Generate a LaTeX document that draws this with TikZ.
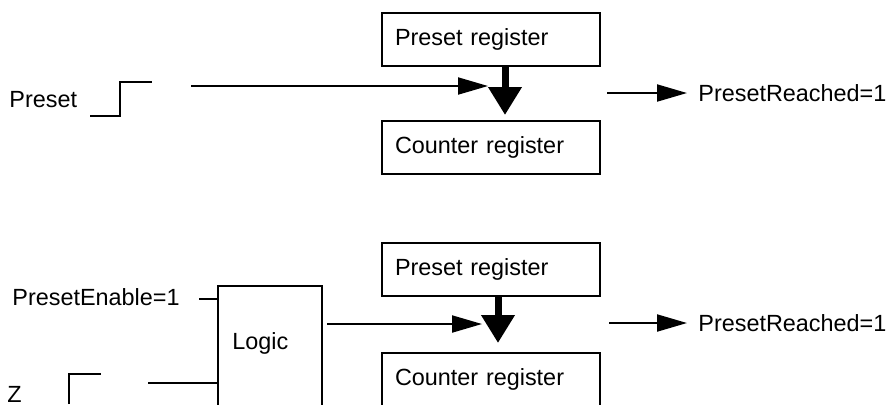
\documentclass[tikz,border=0pt]{standalone}
\usepackage{fontspec}
\setmainfont{Liberation Sans}
\usetikzlibrary{arrows.meta,positioning}
\begin{document}
\begin{tikzpicture}[
            x=0.5pt, y=-0.5pt,
            reg/.style={draw,line width=1pt,rectangle,minimum height=26.5pt,text width=96pt,inner xsep=6.5pt,align=left},
            % logicbox is left open below the page edge
            logicbox/.style={draw,line width=1pt,rectangle,minimum width=52pt,minimum height=70pt,anchor=north west},
            lbl/.style={inner sep=0pt,anchor=west},
            sig/.style={line width=1pt},
            sigarrow/.style={line width=1pt,-{Triangle[length=15pt,width=8.5pt]}},
            push/.style={line width=3.5pt,-{Triangle[length=14pt,width=16pt]}},
            font=\fontsize{11.7}{14}\selectfont
        ]

        \useasboundingbox (0,0) rectangle (890,404);

        % upper case
        \node[reg] (preg1) at (491,39) {Preset register};
        \node[reg,below=26.5pt of preg1] (creg1) {Counter register};
        \node[lbl] (preset) at (9,100) {Preset};
        \node[lbl,inner xsep=5.5pt] (reach1) at (687,93) {PresetReached=1};
        \coordinate (in1) at (191,86);
        \coordinate (hit1) at (488,86);
        \coordinate (tip1) at (505,115);
        \coordinate (out1) at (607,93);

        \draw[sig] (90,116) -- (120,116) -- (120,82) -- (152,82);
        \draw[push] (preg1.south -| tip1) -- (tip1);
        \draw[sigarrow] (in1) -- (hit1);
        \draw[sigarrow] (out1) -- (reach1);

        % lower case
        \node[reg] (preg2) at (491,269) {Preset register};
        \node[reg,below=27.5pt of preg2] (creg2) {Counter register};
        \node[logicbox] (logic) at (217,285) {};
        \node[lbl] (logictxt) at (232,343) {Logic};
        \node[lbl] (enable) at (12,297) {PresetEnable=1};
        \node[lbl] (z) at (7,394) {Z};
        \node[lbl,inner xsep=5.5pt] (reach2) at (687,323) {PresetReached=1};
        \coordinate (en) at (199,299);
        \coordinate (zin) at (148,383);
        \coordinate (lout) at (327,324);
        \coordinate (hit2) at (482,324);
        \coordinate (tip2) at (498,343);
        \coordinate (out2) at (609,323);

        \draw[sig] (69,404) -- (69,374) -- (101,374);
        \draw[sig]
            (en) -- (en -| logic.west)
            (zin) -- (zin -| logic.west)
        ;
        \draw[push] (preg2.south -| tip2) -- (tip2);
        \draw[sigarrow] (lout) -- (hit2);
        \draw[sigarrow] (out2) -- (reach2);

\end{tikzpicture}
\end{document}
